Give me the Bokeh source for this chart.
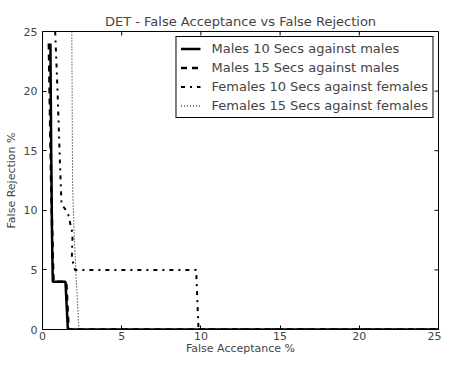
from bokeh.plotting import figure
from bokeh.models import Range1d, Legend, LegendItem, FixedTicker
from bokeh.embed import file_html
from bokeh.resources import INLINE
import math

# Data (False Acceptance %, False Rejection %)
m10_fa = [0.5, 0.55, 0.6, 0.65, 1.45, 1.6, 25]
m10_fr = [24, 15, 8, 4, 4, 0, 0]
m15_fa = [0.4, 0.45, 0.55, 0.65, 0.7, 1.5, 1.65, 25]
m15_fr = [24, 20, 12, 6, 4, 4, 0, 0]
f10_fa = [0.8, 0.95, 1.1, 1.2, 1.6, 1.9, 1.85, 2.05, 9.7, 9.85, 25]
f10_fr = [25, 20, 14, 10.5, 9.8, 8, 6, 5, 5, 0, 0]
f15_fa = [1.85, 1.9, 2.0, 2.1, 2.3, 25]
f15_fr = [25, 12, 8, 5, 0, 0]
ticks = [0, 5, 10, 15, 20, 25]
labels = ["Males 10 Secs against males", "Males 15 Secs against males",
          "Females 10 Secs against females", "Females 15 Secs against females"]

FONT = "DejaVu Sans"
XMAX = 25
YMAX = 25

p = figure(width=441, height=357, output_backend="svg", toolbar_location=None,
           x_range=Range1d(0, XMAX), y_range=Range1d(0, YMAX),
           title="DET - False Acceptance vs False Rejection",
           min_border_left=42, min_border_right=3, min_border_top=31, min_border_bottom=0)
p.title.align = "center"
p.title.text_font = FONT
p.title.text_font_size = "13px"
p.title.text_font_style = "normal"
p.title.offset = 0
p.title.standoff = 6

p.grid.visible = False
p.outline_line_color = "black"
p.outline_line_width = 1
p.background_fill_color = "white"
p.border_fill_color = "white"

for ax in (p.xaxis[0], p.yaxis[0]):
    ax.ticker = FixedTicker(ticks=ticks)
    ax.major_tick_in = 4
    ax.major_tick_out = 0
    ax.minor_tick_in = 0
    ax.minor_tick_out = 0
    ax.major_label_text_font = FONT
    ax.major_label_text_font_size = "11px"
    ax.axis_label_text_font = FONT
    ax.axis_label_text_font_size = "11px"
    ax.axis_label_text_font_style = "normal"
    ax.axis_line_color = "black"

p.xaxis.axis_label = "False Acceptance %"
p.yaxis.axis_label = "False Rejection %"
p.xaxis.axis_label_standoff = -1
p.xaxis.major_label_standoff = 2
p.yaxis.major_label_standoff = 5
p.yaxis.axis_label_standoff = 3

# inner ticks on top and right edges (half of each dash is clipped outside the frame)
p.scatter(ticks, [YMAX] * len(ticks), marker="dash", angle=math.pi / 2, size=8,
          line_color="black", line_width=1)
p.scatter([XMAX] * len(ticks), ticks, marker="dash", size=8,
          line_color="black", line_width=1)

r1 = p.line(m10_fa, m10_fr, line_color="black", line_width=2.5)
r2 = p.line(m15_fa, m15_fr, line_color="black", line_width=2.5, line_dash="6 5")
r3 = p.line(f10_fa, f10_fr, line_color="black", line_width=2, line_dash="4 5 2 5")
r4 = p.line(f15_fa, f15_fr, line_color="black", line_width=1, line_dash="1 2")

legend = Legend(items=[LegendItem(label=labels[0], renderers=[r1]),
                       LegendItem(label=labels[1], renderers=[r2]),
                       LegendItem(label=labels[2], renderers=[r3]),
                       LegendItem(label=labels[3], renderers=[r4])],
                location="top_right")
legend.label_text_font = FONT
legend.label_text_font_size = "13px"
legend.border_line_color = "black"
legend.border_line_width = 1
legend.border_line_alpha = 1
legend.background_fill_alpha = 1
legend.glyph_width = 20
legend.glyph_height = 15
legend.label_height = 15
legend.spacing = 4
legend.padding = 4
legend.margin = 5
legend.label_standoff = 11
p.add_layout(legend)

open("out.html", "w").write(file_html(p, INLINE))
